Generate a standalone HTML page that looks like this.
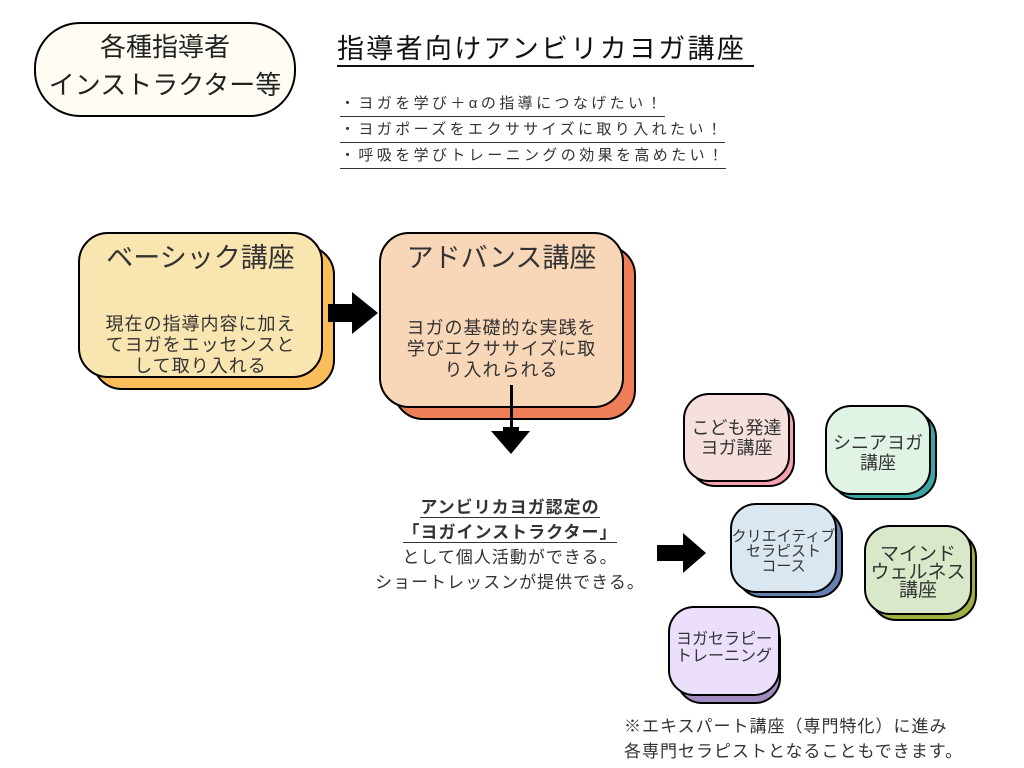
<!DOCTYPE html>
<html><head><meta charset="utf-8"><style>
body{margin:0;width:1024px;height:768px;background:#fff;position:relative;overflow:hidden;font-family:"Liberation Sans","Noto Sans CJK JP",sans-serif;color:#333}
.a{position:absolute}
.b{position:absolute;border:2px solid #000;box-sizing:border-box}
.t{position:absolute;text-align:center;white-space:nowrap}
</style></head><body>
<div class="b" style="left:34px;top:22px;width:262px;height:95px;border-radius:46px;background:#fffdf3"></div>
<div class="t" style="left:34px;top:28px;width:262px;font-size:26px;line-height:38px;color:#222">各種指導者<br>インストラクター等</div>

<div class="a" style="left:337px;top:31px;font-size:27px;letter-spacing:2.3px;color:#111;white-space:nowrap;line-height:36px">指導者向けアンビリカヨガ講座</div>
<div class="a" style="left:337px;top:65px;width:417px;height:2px;background:#111"></div>
<div class="a" style="left:340px;top:91px;font-size:15px;letter-spacing:3.4px;line-height:26px;white-space:nowrap">
<div style="border-bottom:1px solid #333;display:inline-block;height:25px">・ヨガを学び＋αの指導につなげたい！</div><br>
<div style="border-bottom:1px solid #333;display:inline-block;height:25px">・ヨガポーズをエクササイズに取り入れたい！</div><br>
<div style="border-bottom:1px solid #333;display:inline-block;height:25px">・呼吸を学びトレーニングの効果を高めたい！</div></div>

<div class="b" style="left:92px;top:245px;width:243px;height:145px;border-radius:30px;background:#fbbd5a"></div>
<div class="b" style="left:78px;top:232px;width:245px;height:146px;border-radius:30px;background:#f9e5b0"></div>
<div class="t" style="left:78px;top:240px;width:245px;font-size:27px;line-height:36px">ベーシック講座</div>
<div class="t" style="left:78px;top:314px;width:245px;font-size:18px;letter-spacing:1px;line-height:21px">現在の指導内容に加え<br>てヨガをエッセンスと<br>して取り入れる</div>

<div class="b" style="left:393px;top:245px;width:243px;height:175px;border-radius:30px;background:#ef7d57"></div>
<div class="b" style="left:379px;top:232px;width:245px;height:176px;border-radius:30px;background:#f8d7b9"></div>
<div class="t" style="left:379px;top:240px;width:245px;font-size:27px;line-height:36px">アドバンス講座</div>
<div class="t" style="left:379px;top:318px;width:245px;font-size:18px;letter-spacing:1px;line-height:21px">ヨガの基礎的な実践を<br>学びエクササイズに取<br>り入れられる</div>

<svg class="a" style="left:0;top:0" width="1024" height="768">
<polygon points="328,304 352,304 352,292 378,313 352,334 352,322 328,322" fill="#000"/>
<rect x="510" y="385" width="3" height="43" fill="#000"/>
<polygon points="503,427 519,427 519,431 530,431 511,454 491,431 503,431" fill="#000"/>
<polygon points="657,545 683,545 683,533 706,553 683,573 683,561 657,561" fill="#000"/>
</svg>

<div class="t" style="left:340px;top:495px;width:340px;font-size:17px;letter-spacing:1px;line-height:25px">
<span style="font-weight:bold;border-bottom:1px solid #333">アンビリカヨガ認定の</span><br>
<span style="font-weight:bold;border-bottom:1px solid #333">「ヨガインストラクター」</span><br>
として個人活動ができる。<br>ショートレッスンが提供できる。</div>

<div class="b" style="left:689px;top:399px;width:106px;height:88px;border-radius:26px;background:#f6a1b0"></div>
<div class="b" style="left:683px;top:393px;width:107px;height:89px;border-radius:26px;background:#f5e0de"></div>
<div class="t" style="left:683px;top:418px;width:107px;font-size:18px;line-height:20px">こども発達<br>ヨガ講座</div>

<div class="b" style="left:831px;top:411px;width:106px;height:89px;border-radius:26px;background:#3aa5a5"></div>
<div class="b" style="left:825px;top:405px;width:106px;height:90px;border-radius:26px;background:#e0f4e6"></div>
<div class="t" style="left:825px;top:433px;width:106px;font-size:18px;line-height:20px">シニアヨガ<br>講座</div>

<div class="b" style="left:736px;top:509px;width:107px;height:89px;border-radius:26px;background:#6680b0"></div>
<div class="b" style="left:730px;top:503px;width:107px;height:90px;border-radius:26px;background:#dbe7f0"></div>
<div class="t" style="left:730px;top:529px;width:107px;font-size:15px;line-height:15px">クリエイティブ<br>セラピスト<br>コース</div>

<div class="b" style="left:870px;top:531px;width:107px;height:90px;border-radius:26px;background:#9fb040"></div>
<div class="b" style="left:864px;top:525px;width:108px;height:90px;border-radius:26px;background:#d8e8c8"></div>
<div class="t" style="left:864px;top:546px;width:108px;font-size:19px;line-height:18px">マインド<br>ウェルネス<br>講座</div>

<div class="b" style="left:676px;top:614px;width:105px;height:90px;border-radius:26px;background:#a08cc0"></div>
<div class="b" style="left:668px;top:606px;width:112px;height:90px;border-radius:26px;background:#ebdffb"></div>
<div class="t" style="left:668px;top:631px;width:112px;font-size:16px;line-height:17px">ヨガセラピー<br>トレーニング</div>

<div class="a" style="left:624px;top:714px;font-size:17px;letter-spacing:1px;line-height:25px;white-space:nowrap">※エキスパート講座（専門特化）に進み<br>各専門セラピストとなることもできます。</div>
</body></html>
